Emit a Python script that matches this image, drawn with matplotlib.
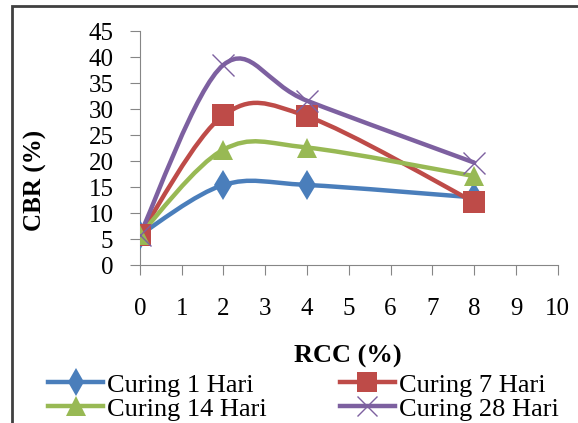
import matplotlib.pyplot as plt
import numpy as np
from matplotlib.path import Path
from matplotlib.patches import PathPatch, Rectangle
from matplotlib.lines import Line2D

plt.rcParams['font.family'] = ['Liberation Serif', 'DejaVu Serif']

rcc = [0, 2, 4, 8]
curing_1 = [5.8, 15.4, 15.4, 13.0]
curing_7 = [5.8, 28.8, 28.6, 12.1]
curing_14 = [5.8, 22.2, 22.6, 17.1]
curing_28 = [5.8, 38.5, 31.6, 19.7]
labels = ['Curing 1 Hari', 'Curing 7 Hari', 'Curing 14 Hari', 'Curing 28 Hari']
colors = ['#4A7EBB', '#BE4B48', '#98B954', '#7D60A0']
markers = ['d', 's', '^', 'x']
msizes = [15, 16, 15, 16]


def smooth_path(x, y):
    # excel-like smoothing: bezier through every point
    pts = np.column_stack([x, y]).astype(float)
    verts = [pts[0]]
    codes = [Path.MOVETO]
    n = len(pts)
    for i in range(n - 1):
        p0 = pts[i - 1] if i > 0 else pts[i]
        p1 = pts[i]
        p2 = pts[i + 1]
        p3 = pts[i + 2] if i + 2 < n else pts[i + 1]
        c1 = p1 + (p2 - p0) / 6
        c2 = p2 - (p3 - p1) / 6
        verts += [c1, c2, p2]
        codes += [Path.CURVE4] * 3
    return Path(verts, codes)


fig = plt.figure(figsize=(5.78, 4.23), dpi=100)
ax = fig.add_axes([0.242, 0.3735, 0.723, 0.553])

series = [curing_1, curing_7, curing_14, curing_28]
handles = []
for vals, lab, col, mk, ms in zip(series, labels, colors, markers, msizes):
    patch = PathPatch(smooth_path(rcc, vals), facecolor='none', edgecolor=col,
                      lw=3.2, zorder=2, capstyle='round')
    ax.add_patch(patch)
    mew = 1 if mk == 'x' else 0
    ax.plot(rcc, vals, ls='none', marker=mk, color=col, ms=ms, mew=mew,
            zorder=3)
    handles.append(Line2D([], [], color=col, lw=3.2, marker=mk, ms=ms - 1,
                          mew=mew))

ax.set_xlim(0, 10)
ax.set_ylim(0, 45)
ax.set_xticks(range(0, 11))
ax.set_yticks(range(0, 46, 5))
for s in ['top', 'right']:
    ax.spines[s].set_visible(False)
for s in ['left', 'bottom']:
    ax.spines[s].set_color('#868686')
ax.tick_params(axis='both', colors='#868686', labelcolor='black',
               labelsize=18, length=7)
ax.tick_params(axis='x', pad=17)
ax.tick_params(axis='y', pad=12)
ax.set_ylabel('CBR (%)', fontsize=18, fontweight='bold', va='center')
ax.yaxis.set_label_coords(-0.251, 0.363)
ax.set_xlabel('RCC (%)', fontsize=19, fontweight='bold', va='center')
ax.xaxis.set_label_coords(0.498, -0.393)

# legend fills row by row in the reference
order = [0, 2, 1, 3]
fig.legend([handles[i] for i in order], [labels[i] for i in order], ncol=2,
           loc='upper left', bbox_to_anchor=(0.083, 0.118), frameon=False,
           fontsize=19, handlelength=2.1, handletextpad=0.15,
           columnspacing=2.75, labelspacing=0.02, borderpad=0,
           borderaxespad=0)

fig.patches.append(Rectangle((12 / 578, -0.1), 1.2, 1.1 - 6 / 423,
                             transform=fig.transFigure, fill=False,
                             edgecolor='#404040', lw=2))

fig.savefig('out.png', dpi=100)
